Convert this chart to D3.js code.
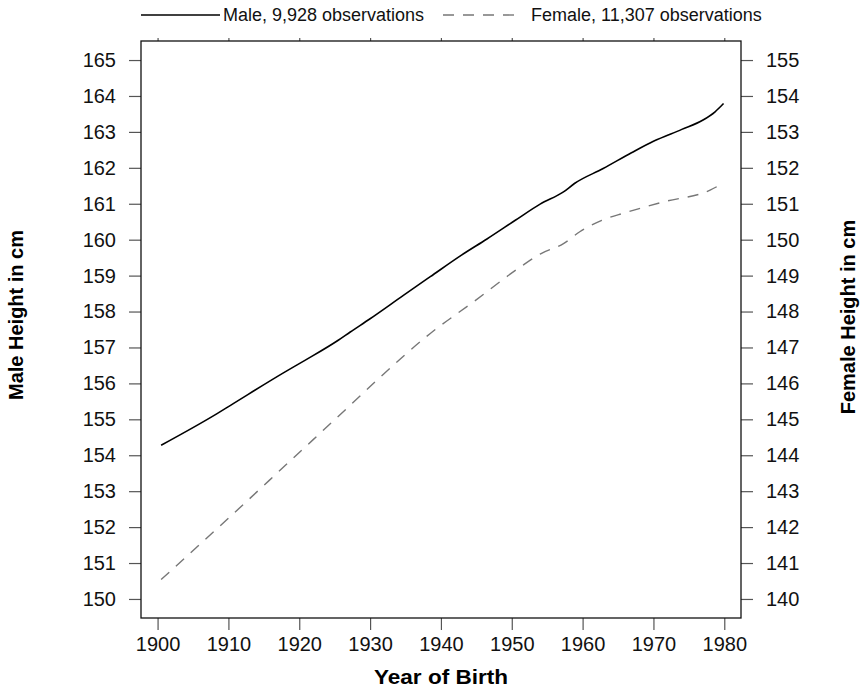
<!DOCTYPE html>
<html>
<head>
<meta charset="utf-8">
<script src="https://cdn.jsdelivr.net/npm/d3@7"></script>
<style>
  body { margin: 0; background: #fff; }
  text { font-family: "Liberation Sans", Arial, Helvetica, sans-serif; }
</style>
</head>
<body>
<div id="chart"></div>
<script>
// values
var maleYears   = [1900.5, 1908.4, 1910.3, 1918.0, 1920.8, 1925.5, 1927.2, 1930.0, 1934.7, 1938.5, 1942.9, 1946.5, 1950.5, 1954.0, 1957.3, 1958.9, 1962.9, 1966.9, 1970.0, 1974.0, 1977.0, 1978.7, 1979.9];
var maleHeight  = [154.28, 155.16, 155.39, 156.32, 156.64, 157.20, 157.43, 157.80, 158.45, 158.97, 159.57, 160.02, 160.54, 160.99, 161.33, 161.57, 161.98, 162.42, 162.74, 163.07, 163.33, 163.56, 163.79];
var femaleYears  = [1900.5, 1909.8, 1919.2, 1926.7, 1931.2, 1938.5, 1944.6, 1951.2, 1954.0, 1957.3, 1959.6, 1962.7, 1966.0, 1971.4, 1978.0, 1979.9];
var femaleHeight = [140.54, 142.21, 143.93, 145.30, 146.13, 147.39, 148.27, 149.24, 149.60, 149.89, 150.22, 150.54, 150.75, 151.05, 151.38, 151.58];

var yearTicks   = [1900, 1910, 1920, 1930, 1940, 1950, 1960, 1970, 1980];
var maleTicks   = d3.range(150, 166);   // 150 .. 165
var femaleTicks = d3.range(140, 156);   // 140 .. 155

var legendLabels = ["Male, 9,928 observations", "Female, 11,307 observations"];
var axisTitles = {x: "Year of Birth", left: "Male Height in cm", right: "Female Height in cm"};

var w = 861, h = 687;
var pL = 141, pR = 741, pT = 41, pB = 618;   // plot frame

var svg = d3.select("#chart").append("svg").attr("width", w).attr("height", h);

var x = d3.scaleLinear().domain([1897.66, 1982.36]).range([pL, pR]);
var yM = d3.scaleLinear().domain([149.47, 165.53]).range([pB, pT]);
var yF = d3.scaleLinear().domain([139.47, 155.53]).range([pB, pT]);

var tickCol = "#555";
function styleAxis(g) {
  g.select(".domain").remove();
  g.selectAll(".tick line").attr("stroke", tickCol).attr("stroke-width", 1.2);
  g.selectAll(".tick text").attr("fill", "#111").style("font-size", "20px").attr("font-family", null);
}

svg.append("g").attr("transform", "translate(0," + pB + ")")
   .call(d3.axisBottom(x).tickValues(yearTicks).tickFormat(d3.format("d")).tickSize(12).tickPadding(7))
   .call(styleAxis);
svg.append("g").attr("transform", "translate(0," + pT + ")")
   .call(d3.axisTop(x).tickValues(yearTicks).tickFormat("").tickSize(3))
   .call(styleAxis);
svg.append("g").attr("transform", "translate(" + pL + ",0)")
   .call(d3.axisLeft(yM).tickValues(maleTicks).tickFormat(d3.format("d")).tickSize(12).tickPadding(13))
   .call(styleAxis);
svg.append("g").attr("transform", "translate(" + pR + ",0)")
   .call(d3.axisRight(yF).tickValues(femaleTicks).tickFormat(d3.format("d")).tickSize(12).tickPadding(13))
   .call(styleAxis);

// frame
svg.append("rect").attr("x", pL).attr("y", pT)
   .attr("width", pR - pL).attr("height", pB - pT)
   .attr("fill", "none").attr("stroke", "#111").attr("stroke-width", 1.3);

var male = maleYears.map(function(d, i) { return [d, maleHeight[i]]; });
var female = femaleYears.map(function(d, i) { return [d, femaleHeight[i]]; });

svg.append("path").datum(male)
   .attr("d", d3.line().x(function(d){ return x(d[0]); }).y(function(d){ return yM(d[1]); }).curve(d3.curveMonotoneX))
   .attr("fill", "none").attr("stroke", "#000").attr("stroke-width", 1.6);

svg.append("path").datum(female)
   .attr("d", d3.line().x(function(d){ return x(d[0]); }).y(function(d){ return yF(d[1]); }).curve(d3.curveMonotoneX))
   .attr("fill", "none").attr("stroke", "#777").attr("stroke-width", 1.4)
   .attr("stroke-dasharray", "11,9");

// legend
var leg = svg.append("g").style("font-size", "18px");
leg.append("line").attr("x1", 141).attr("x2", 220).attr("y1", 15).attr("y2", 15)
   .attr("stroke", "#000").attr("stroke-width", 1.4);
leg.append("text").attr("x", 223).attr("y", 15).attr("dy", "0.35em").attr("fill", "#111").text(legendLabels[0]);
leg.append("line").attr("x1", 443).attr("x2", 517).attr("y1", 15).attr("y2", 15)
   .attr("stroke", "#777").attr("stroke-width", 1.4).attr("stroke-dasharray", "11,9");
leg.append("text").attr("x", 531).attr("y", 15).attr("dy", "0.35em").attr("fill", "#111").text(legendLabels[1]);

// axis titles
svg.append("text").attr("x", (pL + pR) / 2).attr("y", 677).attr("dy", "0.35em")
   .attr("text-anchor", "middle").style("font-size", "21px").style("font-weight", "bold")
   .attr("textLength", 134).attr("lengthAdjust", "spacingAndGlyphs")
   .text(axisTitles.x);
svg.append("text").attr("transform", "translate(16,315) rotate(-90)").attr("dy", "0.35em")
   .attr("text-anchor", "middle").style("font-size", "20px").style("font-weight", "bold")
   .text(axisTitles.left);
svg.append("text").attr("transform", "translate(848,317) rotate(-90)").attr("dy", "0.35em")
   .attr("text-anchor", "middle").style("font-size", "20px").style("font-weight", "bold")
   .text(axisTitles.right);
</script>
</body>
</html>
